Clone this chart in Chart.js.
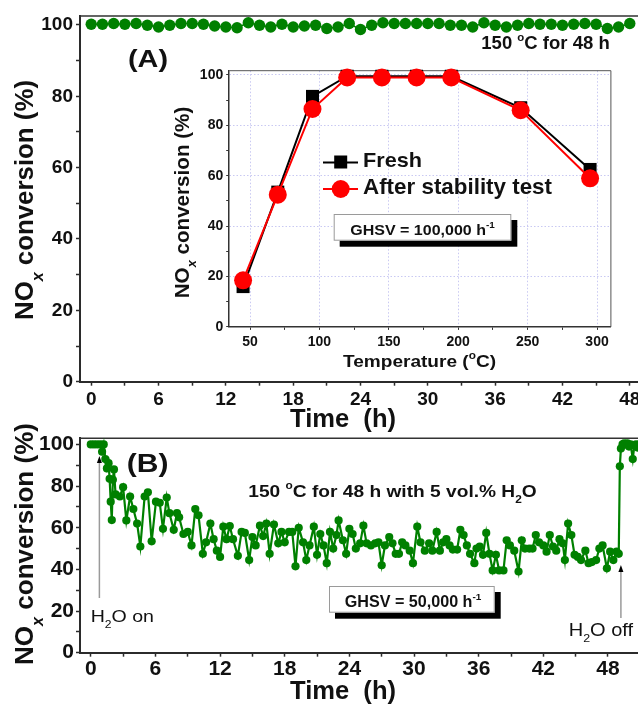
<!DOCTYPE html>
<html><head><meta charset="utf-8">
<script src="https://cdn.jsdelivr.net/npm/chart.js@4/dist/chart.umd.min.js"></script>
<style>
html,body{margin:0;padding:0;background:#fff;overflow:hidden;width:638px;height:706px;}
canvas{position:absolute;left:0;top:0;}
</style></head><body>
<canvas id="cA" width="660" height="706"></canvas>
<canvas id="cI" width="660" height="706"></canvas>
<canvas id="cB" width="660" height="706"></canvas>
<script>
// ---------------- data ----------------
// Panel A: stability at 150 C for 48 h
const timeA = [0,1,2,3,4,5,6,7,8,9,10,11,12,13,14,15,16,17,18,19,20,21,22,23,24,25,26,27,28,29,30,31,32,33,34,35,36,37,38,39,40,41,42,43,44,45,46,47,48];
const convA = [100.2,100.2,100.4,100.2,100.4,99.9,99.4,99.9,100.4,100.4,100.2,99.7,99.4,99.2,100.6,99.9,99.4,100.2,99.4,99.7,99.9,99.0,99.4,100.4,98.7,99.9,100.6,100.4,100.4,100.4,100.4,100.4,99.9,99.9,99.4,100.6,99.9,99.4,99.9,100.4,100.2,100.2,99.9,100.2,100.4,100.2,99.0,99.4,100.4];

// Inset: conversion vs temperature
const insetTemps = [45,70,95,120,145,170,195,245,295];
const freshConv  = [16,53.5,91.5,99.5,99.5,99.5,99.5,87,62.5];
const afterConv  = [18.5,52.5,86.5,99,99,99,99,86,59];

// Panel B: with 5 vol.% H2O
const timeB = [0,0.3,0.6,0.9,1.05,1.2,1.35,1.5,1.65,1.75,
  1.85,1.95,2.05,2.15,2.3,2.7,3.0,3.3,3.65,3.95,
  4.3,4.6,5.0,5.3,5.65,6.05,6.4,6.7,7.05,7.3,
  7.7,8.0,8.2,8.6,9.0,9.35,9.7,10.0,10.4,10.7,
  11.1,11.4,11.7,12.0,12.3,12.6,12.9,13.2,13.65,14.0,
  14.3,14.7,15.0,15.3,15.7,16.0,16.3,16.6,17.0,17.4,
  17.7,18.0,18.4,18.7,19.0,19.3,19.7,20.0,20.3,20.7,
  21.0,21.3,21.6,21.9,22.2,22.5,22.8,23.0,23.4,23.7,
  24.0,24.3,24.6,25.0,25.3,25.6,26.0,26.4,26.7,27.0,
  27.3,27.7,28.0,28.3,28.6,28.9,29.2,29.6,29.9,30.3,
  30.6,31.0,31.4,31.7,32.1,32.4,32.7,33.0,33.3,33.6,
  34.0,34.3,34.6,34.9,35.2,35.6,35.8,36.1,36.4,36.7,
  37.0,37.3,37.6,37.9,38.3,38.6,38.9,39.3,39.7,40.0,
  40.3,40.7,41.0,41.3,41.6,42.0,42.3,42.6,42.9,43.2,
  43.5,43.8,44.0,44.3,44.6,44.9,45.2,45.5,45.9,46.2,
  46.5,46.9,47.2,47.5,47.9,48.2,48.5,48.8,49.0,49.1,
  49.2,49.35,49.5,49.65,49.8,49.95,50.1,50.3,50.45,50.6,
  50.75,50.9];
const convB = [100,100,100,100,96.5,100,93,88.5,91,83.5,
  72.5,63.7,83,88,76,75,79.5,63.5,75,69,
  62,51,75,77,53.5,72.5,72,59.5,74.5,67,
  59,67,65,57,58,51.5,69,66,47.5,53,
  62,54.5,49,46,60.5,54.5,60.8,54.5,46.5,58,
  57.5,44.5,55.5,51.5,61,56,62,47.5,61.5,52.5,
  58,53,58,58,41.5,60,53,44.5,51.5,60.5,
  47,57,51.5,43,58,50,56.5,63.5,54,47.5,
  59.5,57,50,52.5,61,52.5,51.5,52.5,53,42,
  51.5,55.5,52.5,47.5,47.5,53,51.5,49,43,60.5,
  53,49,52.5,49,58,49,53,54.5,51.5,49.5,
  49.5,59,56.5,51.5,47.5,43,50,51,47,57.5,
  47.5,39.5,47,39.5,39.5,54,51.5,49,39,54,
  50,50,50,56.5,53,51.5,48.5,56.5,51,49,
  54.5,52.5,44.5,62,56.5,47,46,44.5,49,43,
  43.5,44.5,50,51.5,40.5,48.5,44.5,48.5,47.5,89.5,
  98,100,100.5,100,100.5,99,100,93,99.5,100,
  98.5,100];

// tick values
const ticksTime = [0,3,6,9,12,15,18,21,24,27,30,33,36,39,42,45,48];
const ticksConv = [0,10,20,30,40,50,60,70,80,90,100];
const ticksTemp = [50,75,100,125,150,175,200,225,250,275,300];
const H2O_ON = 0.8, H2O_OFF = 49.2;

// ---------------- helpers ----------------
const GREEN = '#008000';
const FONT = "'Liberation Sans', Arial, Helvetica, sans-serif";
const INK = '#111';
const AXC = '#2b2b2b';

function segFont(m, size, weight){
  const small = (m==='sup'||m==='sub'||m==='subi');
  const s = small ? size*0.62 : size;
  return (m==='subi'?'italic ':'') + weight + ' ' + s + 'px ' + FONT;
}
function richWidth(ctx, segs, size, weight){
  let w = 0;
  for (const [t,m] of segs){ ctx.font = segFont(m,size,weight); w += ctx.measureText(t).width; }
  return w;
}
function drawRich(ctx, segs, x, y, o){
  const size = o.size, weight = o.weight || 'bold';
  ctx.save();
  ctx.translate(x, y);
  if (o.rot) ctx.rotate(o.rot);
  const nat = richWidth(ctx, segs, size, weight);
  if (o.width) ctx.scale(o.width/nat, 1);
  ctx.fillStyle = o.color || INK;
  ctx.textAlign = 'left'; ctx.textBaseline = 'alphabetic';
  let cx = 0;
  for (const [t,m] of segs){
    ctx.font = segFont(m,size,weight);
    const dy = m==='sup' ? -0.45*size : (m==='sub'||m==='subi') ? 0.36*size : 0;
    ctx.fillText(t, cx, dy);
    cx += ctx.measureText(t).width;
  }
  ctx.restore();
}
function shadowBox(ctx, x, y, w, h){
  ctx.save();
  ctx.fillStyle = '#000';
  ctx.fillRect(x+6, y+6, w, h);
  ctx.fillStyle = '#fff';
  ctx.fillRect(x, y, w, h);
  ctx.strokeStyle = '#9a9a9a'; ctx.lineWidth = 1;
  ctx.strokeRect(x+0.5, y+0.5, w-1, h-1);
  ctx.restore();
}
function frame(chart, color, w){
  const {ctx, chartArea:a} = chart;
  ctx.save();
  ctx.strokeStyle = color; ctx.lineWidth = w;
  ctx.beginPath();
  ctx.moveTo(a.left, a.top); ctx.lineTo(a.right, a.top); ctx.lineTo(a.right, a.bottom);
  ctx.stroke();
  ctx.restore();
}
function arrowUp(ctx, x, yTop, yBot){
  ctx.save();
  ctx.strokeStyle = '#9a9a9a'; ctx.lineWidth = 1.5;
  ctx.beginPath(); ctx.moveTo(x, yBot); ctx.lineTo(x, yTop+4); ctx.stroke();
  ctx.fillStyle = '#000';
  ctx.beginPath(); ctx.moveTo(x, yTop); ctx.lineTo(x-2.5, yTop+7); ctx.lineTo(x+2.5, yTop+7); ctx.closePath(); ctx.fill();
  ctx.restore();
}
const NOX = [['NO','n'],['x','subi'],[' conversion (%)','n']];
const TIME = [['Time  (h)','n']];

function scaleX(min, max, ticksArr, every, fsize, pad, tlen, h){
  return {type:'linear', min:min, max:max,
    afterBuildTicks: s => { s.ticks = ticksArr.map(v => ({value:v})); },
    afterFit: s => { s.height = h; },
    ticks:{autoSkip:false, maxRotation:0, padding:pad, color:INK,
      font:{family:FONT, size:fsize, weight:'bold'},
      callback: v => (v % every === 0 ? String(v) : '')},
    grid:{drawOnChartArea:false, drawTicks:true, tickLength:tlen, tickWidth:1.5, tickColor:AXC},
    border:{display:true, color:AXC, width:2}};
}
function scaleY(min, max, ticksArr, every, fsize, pad, tlen, w){
  return {type:'linear', min:min, max:max,
    afterBuildTicks: s => { s.ticks = ticksArr.map(v => ({value:v})); },
    afterFit: s => { s.width = w; },
    ticks:{autoSkip:false, padding:pad, color:INK,
      font:{family:FONT, size:fsize, weight:'bold'},
      callback: v => (v % every === 0 ? String(v) : '')},
    grid:{drawOnChartArea:false, drawTicks:true, tickLength:tlen, tickWidth:1.5, tickColor:AXC},
    border:{display:true, color:AXC, width:2}};
}
const baseOpts = {responsive:false, animation:false, events:[],
  plugins:{legend:{display:false}, tooltip:{enabled:false}}};

// ---------------- Panel A ----------------
const decorA = {
  id:'decorA',
  beforeDatasetsDraw(chart){ frame(chart, '#333', 1.5); },
  afterDraw(chart){
    const ctx = chart.ctx;
    drawRich(ctx, NOX, 33.3, 320, {size:26, width:240, rot:-Math.PI/2});
    drawRich(ctx, TIME, 290, 427, {size:25, width:106});
    drawRich(ctx, [['(A)','n']], 128, 66.7, {size:24, width:40});
    drawRich(ctx, [['150 ','n'],['o','sup'],['C for 48 h','n']], 481.3, 49.3, {size:18.6, width:128.4});
  }
};
new Chart(document.getElementById('cA'), {
  type:'line',
  data:{datasets:[{data: timeA.map((t,i)=>({x:t, y:convA[i]})),
    borderColor:GREEN, backgroundColor:GREEN, borderWidth:1.5, tension:0,
    pointRadius:5.7, pointBorderWidth:0, pointBackgroundColor:GREEN, clip:false}]},
  options:Object.assign({}, baseOpts, {
    layout:{padding:{left:0, top:16, right:19, bottom:706-381.7-30}},
    scales:{
      x: scaleX(-1, 49, ticksTime, 6, 19, 3, 4, 30),
      y: scaleY(0, 102.5, ticksConv, 20, 19, 3, 4, 80)
    }}),
  plugins:[decorA]
});

// ---------------- Inset ----------------
const GRIDC = '#c9c9f2';
const decorI = {
  id:'decorI',
  beforeDatasetsDraw(chart){ frame(chart, '#555', 1); },
  afterDraw(chart){
    const ctx = chart.ctx;
    drawRich(ctx, NOX, 189, 298.3, {size:20, width:191.6, rot:-Math.PI/2});
    drawRich(ctx, [['Temperature (','n'],['o','sup'],['C)','n']], 343, 366.7, {size:16.3, width:153});
    // legend
    ctx.save();
    ctx.lineWidth = 2;
    ctx.strokeStyle = '#000';
    ctx.beginPath(); ctx.moveTo(323, 162.5); ctx.lineTo(358, 162.5); ctx.stroke();
    ctx.fillStyle = '#000'; ctx.fillRect(334.2, 155.5, 13, 13);
    ctx.strokeStyle = '#f00';
    ctx.beginPath(); ctx.moveTo(323, 189); ctx.lineTo(358, 189); ctx.stroke();
    ctx.fillStyle = '#f00'; ctx.beginPath(); ctx.arc(340.7, 189, 9, 0, Math.PI*2); ctx.fill();
    ctx.restore();
    drawRich(ctx, [['Fresh','n']], 363, 166.7, {size:21, width:59});
    drawRich(ctx, [['After stability test','n']], 363, 193.8, {size:21.5, width:189});
    // GHSV box
    shadowBox(ctx, 333.7, 214, 177.6, 26.7);
    drawRich(ctx, [['GHSV = 100,000 h','n'],['-1','sup']], 350.3, 235, {size:15.5, width:144.4});
  }
};
const insetY = {type:'linear', min:0, max:101.7,
  afterBuildTicks: s => { s.ticks = ticksConv.map(v => ({value:v})); },
  afterFit: s => { s.width = 40; },
  ticks:{autoSkip:false, padding:3, color:INK, font:{family:FONT, size:14, weight:'bold'},
    callback: v => (v % 20 === 0 ? String(v) : '')},
  grid:{drawOnChartArea:true, drawTicks:true, tickLength:3, tickWidth:1, tickColor:'#333',
    lineWidth:1, tickBorderDash:[],
    color: c => (c.tick && c.tick.value % 20 === 0 && c.tick.value > 0) ? GRIDC : 'rgba(0,0,0,0)'},
  border:{display:true, color:'#333', width:1.5, dash:[1.5,2]}};
const insetX = {type:'linear', min:35, max:310,
  afterBuildTicks: s => { s.ticks = ticksTemp.map(v => ({value:v})); },
  afterFit: s => { s.height = 25; },
  ticks:{autoSkip:false, maxRotation:0, padding:3.5, color:INK, font:{family:FONT, size:14, weight:'bold'},
    callback: v => (v % 50 === 0 ? String(v) : '')},
  grid:{drawOnChartArea:true, drawTicks:true, tickLength:3, tickWidth:1, tickColor:'#333',
    lineWidth:1, tickBorderDash:[],
    color: c => (c.tick && c.tick.value % 50 === 0) ? GRIDC : 'rgba(0,0,0,0)'},
  border:{display:true, color:'#333', width:1.5, dash:[1.5,2]}};
new Chart(document.getElementById('cI'), {
  type:'line',
  data:{datasets:[
    {label:'Fresh', data: insetTemps.map((t,i)=>({x:t, y:freshConv[i]})), order:1,
     borderColor:'#000', backgroundColor:'#000', borderWidth:2, tension:0,
     pointStyle:'rect', pointRadius:9.2, pointBorderWidth:0, pointBackgroundColor:'#000', clip:false},
    {label:'After stability test', data: insetTemps.map((t,i)=>({x:t, y:afterConv[i]})), order:0,
     borderColor:'#f00', backgroundColor:'#f00', borderWidth:2, tension:0,
     pointStyle:'circle', pointRadius:9, pointBorderWidth:0, pointBackgroundColor:'#f00', clip:false}
  ]},
  options:Object.assign({}, baseOpts, {
    layout:{padding:{left:229.2-40, top:70.7, right:660-610.9, bottom:706-326.9-25}},
    scales:{x:insetX, y:insetY}}),
  plugins:[decorI]
});

// ---------------- Panel B ----------------
const decorB = {
  id:'decorB',
  beforeDatasetsDraw(chart){ frame(chart, '#333', 1.5); },
  afterDraw(chart){
    const ctx = chart.ctx;
    const sx = chart.scales.x;
    drawRich(ctx, NOX, 33.3, 665, {size:26, width:242, rot:-Math.PI/2});
    drawRich(ctx, TIME, 290, 699, {size:25, width:106});
    drawRich(ctx, [['(B)','n']], 126.7, 471.7, {size:25, width:41.7});
    drawRich(ctx, [['150 ','n'],['o','sup'],['C for 48 h with 5 vol.% H','n'],['2','sub'],['O','n']], 248.3, 496.7, {size:16.3, width:288.4});
    shadowBox(ctx, 329, 586, 165.7, 26.7);
    drawRich(ctx, [['GHSV = 50,000 h','n'],['-1','sup']], 344.7, 606.7, {size:16, width:136.6});
    arrowUp(ctx, sx.getPixelForValue(H2O_ON), 456, 598);
    arrowUp(ctx, sx.getPixelForValue(H2O_OFF), 565, 618);
    drawRich(ctx, [['H','n'],['2','sub'],['O on','n']], 90.7, 621.7, {size:16.3, width:63.3, weight:'normal'});
    drawRich(ctx, [['H','n'],['2','sub'],['O off','n']], 568.7, 635.7, {size:17.5, width:64.3, weight:'normal'});
  }
};
new Chart(document.getElementById('cB'), {
  type:'line',
  data:{datasets:[{data: timeB.map((t,i)=>({x:t, y:convB[i]})),
    borderColor:GREEN, backgroundColor:GREEN, borderWidth:2.2, tension:0,
    pointRadius:4.1, pointBorderWidth:0, pointBackgroundColor:GREEN, clip:false}]},
  options:Object.assign({}, baseOpts, {
    layout:{padding:{left:0, top:438.2, right:660-640.3, bottom:706-652.7-30}},
    scales:{
      x: scaleX(-1, 51, ticksTime, 6, 21, 0, 4, 30),
      y: scaleY(0, 103, ticksConv, 20, 21, 2, 4, 80)
    }}),
  plugins:[decorB]
});
</script>
</body></html>
